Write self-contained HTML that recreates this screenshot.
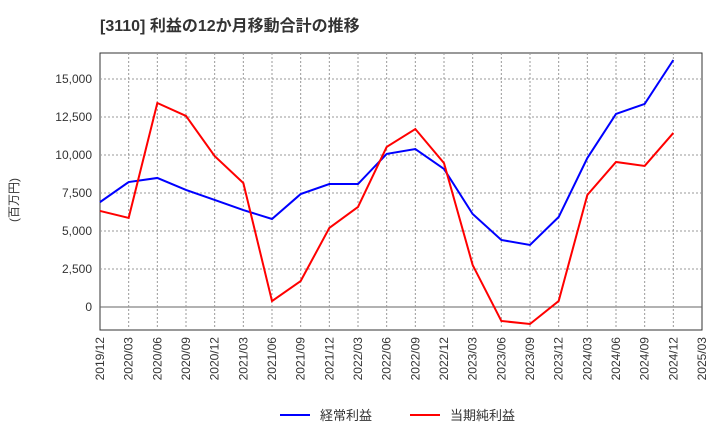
<!DOCTYPE html>
<html><head><meta charset="utf-8"><style>
body{margin:0;background:#fff;font-family:"Liberation Sans","Noto Sans CJK JP",sans-serif}
</style></head><body>
<svg id="c" width="720" height="440" xmlns="http://www.w3.org/2000/svg">
<text x="100" y="31" font-size="16" font-weight="bold" fill="#333">[3110]  利益の12か月移動合計の推移</text>
<text transform="translate(18,200) rotate(-90)" font-size="12" fill="#333" text-anchor="middle">(百万円)</text>
<g id="g"></g>
<g>
<line x1="280" y1="415" x2="310" y2="415" stroke="#0000ff" stroke-width="2"/>
<text x="320" y="420" font-size="13" fill="#333">経常利益</text>
<line x1="410" y1="415" x2="440" y2="415" stroke="#ff0000" stroke-width="2"/>
<text x="450" y="420" font-size="13" fill="#333">当期純利益</text>
</g>
</svg>
<script>
const categories=["2019/12","2020/03","2020/06","2020/09","2020/12","2021/03","2021/06","2021/09","2021/12","2022/03","2022/06","2022/09","2022/12","2023/03","2023/06","2023/09","2023/12","2024/03","2024/06","2024/09","2024/12","2025/03"];
const keijo=[6900,8220,8490,7700,7040,6380,5790,7430,8090,8090,10070,10390,9080,6120,4410,4080,5920,9800,12700,13360,16250];
const junrieki=[6320,5860,13420,12570,9930,8160,390,1710,5200,6580,10530,11710,9470,2760,-920,-1120,390,7370,9540,9280,11450];
const yTicks=[0,2500,5000,7500,10000,12500,15000];
const yLabels=["0","2,500","5,000","7,500","10,000","12,500","15,000"];
const L=100,R=702,T=53,B=330;
const y=v=>307-v/2500*38;
const x=i=>L+i*(R-L)/(categories.length-1);
const g=document.getElementById('g');
const ns="http://www.w3.org/2000/svg";
function mk(t,a){const e=document.createElementNS(ns,t);for(const k in a)e.setAttribute(k,a[k]);g.appendChild(e);return e;}
let e=mk('rect',{x:L,y:T,width:R-L,height:B-T,fill:'none',stroke:'#333','stroke-width':1});


yTicks.forEach((v,i)=>{
 let l=mk('line',{x1:L,x2:R,y1:y(v),y2:y(v),stroke:v==0?'#666':'#999','stroke-dasharray':v==0?'':'2,2'});
 
 
 let t=mk('text',{x:L-8,y:y(v)+4,'font-size':12,fill:'#333','text-anchor':'end'});
 t.textContent=yLabels[i];
 
 
});
categories.forEach((c,i)=>{
 if(i>0&&i<categories.length-1){let l=mk('line',{x1:x(i),x2:x(i),y1:T,y2:B,stroke:'#999','stroke-dasharray':'2,2'});
 
 }
 let t=mk('text',{transform:`translate(${x(i)+4},${B+7}) rotate(-90)`,'font-size':12,fill:'#333','text-anchor':'end'});
 t.textContent=c;
 
 
});
function line(d,col,name){
 let p=mk('polyline',{points:d.map((v,i)=>x(i)+','+y(v)).join(' '),fill:'none',stroke:col,'stroke-width':2});
 
 
}
line(keijo,'#0000ff','keijo-line');
line(junrieki,'#ff0000','junrieki-line');
</script>
</body></html>
